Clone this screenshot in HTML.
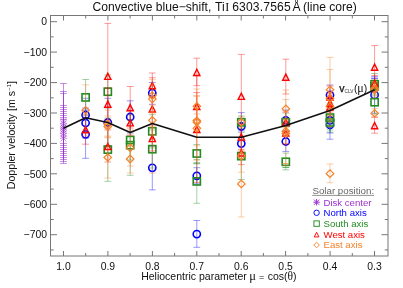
<!DOCTYPE html>
<html><head><meta charset="utf-8"><title>Convective blue-shift</title>
<style>html,body{margin:0;padding:0;background:#fff}body{width:403px;height:288px;overflow:hidden;font-family:"Liberation Sans",sans-serif}</style></head>
<body>
<svg width="403" height="288" viewBox="0 0 403 288" style="display:block;will-change:transform;font-family:'Liberation Sans',sans-serif">
<rect width="403" height="288" fill="#fff"/>
<path d="M63.5 83.5V143.5M60.1 83.5H66.9M60.1 143.5H66.9" fill="none" stroke="#9a32cd" stroke-opacity="0.55" stroke-width="1"/>
<path d="M63.5 91.5V145.5M60.1 91.5H66.9M60.1 145.5H66.9" fill="none" stroke="#9a32cd" stroke-opacity="0.55" stroke-width="1"/>
<path d="M63.5 93.5V147.5M60.1 93.5H66.9M60.1 147.5H66.9" fill="none" stroke="#9a32cd" stroke-opacity="0.55" stroke-width="1"/>
<path d="M63.5 105.5V149.5M60.1 105.5H66.9M60.1 149.5H66.9" fill="none" stroke="#9a32cd" stroke-opacity="0.55" stroke-width="1"/>
<path d="M63.5 107.5V151.5M60.1 107.5H66.9M60.1 151.5H66.9" fill="none" stroke="#9a32cd" stroke-opacity="0.55" stroke-width="1"/>
<path d="M63.5 109.5V153.5M60.1 109.5H66.9M60.1 153.5H66.9" fill="none" stroke="#9a32cd" stroke-opacity="0.55" stroke-width="1"/>
<path d="M63.5 111.5V155.5M60.1 111.5H66.9M60.1 155.5H66.9" fill="none" stroke="#9a32cd" stroke-opacity="0.55" stroke-width="1"/>
<path d="M63.5 113.5V157.5M60.1 113.5H66.9M60.1 157.5H66.9" fill="none" stroke="#9a32cd" stroke-opacity="0.55" stroke-width="1"/>
<path d="M63.5 115.5V159.5M60.1 115.5H66.9M60.1 159.5H66.9" fill="none" stroke="#9a32cd" stroke-opacity="0.55" stroke-width="1"/>
<path d="M63.5 117.5V161.5M60.1 117.5H66.9M60.1 161.5H66.9" fill="none" stroke="#9a32cd" stroke-opacity="0.55" stroke-width="1"/>
<path d="M63.5 119.5V163.5M60.1 119.5H66.9M60.1 163.5H66.9" fill="none" stroke="#9a32cd" stroke-opacity="0.55" stroke-width="1"/>
<path d="M60.6 118.1L66.4 123.9M60.6 123.9L66.4 118.1" fill="none" stroke="#9a32cd" stroke-width="0.8" stroke-opacity="0.7"/><path d="M59.9 121.0H67.1M63.5 117.4V124.6" fill="none" stroke="#9a32cd" stroke-width="0.8" stroke-opacity="0.35"/>
<path d="M60.6 120.6L66.4 126.4M60.6 126.4L66.4 120.6" fill="none" stroke="#9a32cd" stroke-width="0.8" stroke-opacity="0.7"/><path d="M59.9 123.5H67.1M63.5 119.9V127.1" fill="none" stroke="#9a32cd" stroke-width="0.8" stroke-opacity="0.35"/>
<path d="M60.6 123.1L66.4 128.9M60.6 128.9L66.4 123.1" fill="none" stroke="#9a32cd" stroke-width="0.8" stroke-opacity="0.7"/><path d="M59.9 126.0H67.1M63.5 122.4V129.6" fill="none" stroke="#9a32cd" stroke-width="0.8" stroke-opacity="0.35"/>
<path d="M60.6 124.6L66.4 130.4M60.6 130.4L66.4 124.6" fill="none" stroke="#9a32cd" stroke-width="0.8" stroke-opacity="0.7"/><path d="M59.9 127.5H67.1M63.5 123.9V131.1" fill="none" stroke="#9a32cd" stroke-width="0.8" stroke-opacity="0.35"/>
<path d="M60.6 126.6L66.4 132.4M60.6 132.4L66.4 126.6" fill="none" stroke="#9a32cd" stroke-width="0.8" stroke-opacity="0.7"/><path d="M59.9 129.5H67.1M63.5 125.9V133.1" fill="none" stroke="#9a32cd" stroke-width="0.8" stroke-opacity="0.35"/>
<path d="M60.6 128.1L66.4 133.9M60.6 133.9L66.4 128.1" fill="none" stroke="#9a32cd" stroke-width="0.8" stroke-opacity="0.7"/><path d="M59.9 131.0H67.1M63.5 127.4V134.6" fill="none" stroke="#9a32cd" stroke-width="0.8" stroke-opacity="0.35"/>
<path d="M60.6 130.6L66.4 136.4M60.6 136.4L66.4 130.6" fill="none" stroke="#9a32cd" stroke-width="0.8" stroke-opacity="0.7"/><path d="M59.9 133.5H67.1M63.5 129.9V137.1" fill="none" stroke="#9a32cd" stroke-width="0.8" stroke-opacity="0.35"/>
<path d="M60.6 133.1L66.4 138.9M60.6 138.9L66.4 133.1" fill="none" stroke="#9a32cd" stroke-width="0.8" stroke-opacity="0.7"/><path d="M59.9 136.0H67.1M63.5 132.4V139.6" fill="none" stroke="#9a32cd" stroke-width="0.8" stroke-opacity="0.35"/>
<path d="M60.6 135.6L66.4 141.4M60.6 141.4L66.4 135.6" fill="none" stroke="#9a32cd" stroke-width="0.8" stroke-opacity="0.7"/><path d="M59.9 138.5H67.1M63.5 134.9V142.1" fill="none" stroke="#9a32cd" stroke-width="0.8" stroke-opacity="0.35"/>
<path d="M85.6 98.3V132.0M82.2 98.3H89.0M82.2 132.0H89.0" fill="none" stroke="#0000ff" stroke-opacity="0.4" stroke-width="1"/>
<path d="M85.6 108.0V138.0M82.2 108.0H89.0M82.2 138.0H89.0" fill="none" stroke="#0000ff" stroke-opacity="0.4" stroke-width="1"/>
<path d="M85.6 110.0V158.3M82.2 110.0H89.0M82.2 158.3H89.0" fill="none" stroke="#0000ff" stroke-opacity="0.4" stroke-width="1"/>
<path d="M107.8 98.3V146.0M104.4 98.3H111.2M104.4 146.0H111.2" fill="none" stroke="#0000ff" stroke-opacity="0.4" stroke-width="1"/>
<path d="M130.2 100.8V133.0M126.8 100.8H133.6M126.8 133.0H133.6" fill="none" stroke="#0000ff" stroke-opacity="0.4" stroke-width="1"/>
<path d="M152.3 82.5V104.3M148.9 82.5H155.7M148.9 104.3H155.7" fill="none" stroke="#0000ff" stroke-opacity="0.4" stroke-width="1"/>
<path d="M152.3 146.0V189.9M148.9 146.0H155.7M148.9 189.9H155.7" fill="none" stroke="#0000ff" stroke-opacity="0.4" stroke-width="1"/>
<path d="M196.8 167.7V183.9M193.4 167.7H200.2M193.4 183.9H200.2" fill="none" stroke="#0000ff" stroke-opacity="0.4" stroke-width="1"/>
<path d="M196.8 220.5V247.3M193.4 220.5H200.2M193.4 247.3H200.2" fill="none" stroke="#0000ff" stroke-opacity="0.4" stroke-width="1"/>
<path d="M241.3 112.6V140.4M237.9 112.6H244.7M237.9 140.4H244.7" fill="none" stroke="#0000ff" stroke-opacity="0.4" stroke-width="1"/>
<path d="M241.3 131.0V156.2M237.9 131.0H244.7M237.9 156.2H244.7" fill="none" stroke="#0000ff" stroke-opacity="0.4" stroke-width="1"/>
<path d="M285.8 110.0V130.6M282.4 110.0H289.2M282.4 130.6H289.2" fill="none" stroke="#0000ff" stroke-opacity="0.4" stroke-width="1"/>
<path d="M285.8 131.6V151.4M282.4 131.6H289.2M282.4 151.4H289.2" fill="none" stroke="#0000ff" stroke-opacity="0.4" stroke-width="1"/>
<path d="M330.0 85.0V105.0M326.6 85.0H333.4M326.6 105.0H333.4" fill="none" stroke="#0000ff" stroke-opacity="0.4" stroke-width="1"/>
<path d="M330.0 108.0V133.0M326.6 108.0H333.4M326.6 133.0H333.4" fill="none" stroke="#0000ff" stroke-opacity="0.4" stroke-width="1"/>
<path d="M330.0 110.0V139.2M326.6 110.0H333.4M326.6 139.2H333.4" fill="none" stroke="#0000ff" stroke-opacity="0.4" stroke-width="1"/>
<path d="M374.6 76.6V113.2M371.2 76.6H378.0M371.2 113.2H378.0" fill="none" stroke="#0000ff" stroke-opacity="0.4" stroke-width="1"/>
<path d="M374.6 78.3V78.3M371.2 78.3H378.0M371.2 78.3H378.0" fill="none" stroke="#0000ff" stroke-opacity="0.4" stroke-width="1"/>
<circle cx="85.6" cy="115.0" r="3.60" fill="none" stroke="#0000ff" stroke-width="1.60"/>
<circle cx="85.6" cy="123.0" r="3.60" fill="none" stroke="#0000ff" stroke-width="1.60"/>
<circle cx="85.6" cy="134.3" r="3.60" fill="none" stroke="#0000ff" stroke-width="1.60"/>
<circle cx="107.8" cy="122.5" r="3.60" fill="none" stroke="#0000ff" stroke-width="1.60"/>
<circle cx="130.2" cy="117.0" r="3.60" fill="none" stroke="#0000ff" stroke-width="1.60"/>
<circle cx="152.3" cy="93.0" r="3.60" fill="none" stroke="#0000ff" stroke-width="1.60"/>
<circle cx="152.3" cy="167.8" r="3.60" fill="none" stroke="#0000ff" stroke-width="1.60"/>
<circle cx="196.8" cy="175.8" r="3.60" fill="none" stroke="#0000ff" stroke-width="1.60"/>
<circle cx="196.8" cy="234.1" r="3.60" fill="none" stroke="#0000ff" stroke-width="1.60"/>
<circle cx="241.3" cy="126.5" r="3.60" fill="none" stroke="#0000ff" stroke-width="1.60"/>
<circle cx="241.3" cy="143.6" r="3.60" fill="none" stroke="#0000ff" stroke-width="1.60"/>
<circle cx="285.8" cy="120.3" r="3.60" fill="none" stroke="#0000ff" stroke-width="1.60"/>
<circle cx="285.8" cy="141.5" r="3.60" fill="none" stroke="#0000ff" stroke-width="1.60"/>
<circle cx="330.0" cy="95.0" r="3.60" fill="none" stroke="#0000ff" stroke-width="1.60"/>
<circle cx="330.0" cy="120.4" r="3.60" fill="none" stroke="#0000ff" stroke-width="1.60"/>
<circle cx="330.0" cy="124.8" r="3.60" fill="none" stroke="#0000ff" stroke-width="1.60"/>
<circle cx="374.6" cy="94.9" r="3.60" fill="none" stroke="#0000ff" stroke-width="1.60"/>
<path d="M85.6 79.5V115.0M82.2 79.5H89.0M82.2 115.0H89.0" fill="none" stroke="#228b22" stroke-opacity="0.4" stroke-width="1"/>
<path d="M107.8 75.0V108.0M104.4 75.0H111.2M104.4 108.0H111.2" fill="none" stroke="#228b22" stroke-opacity="0.4" stroke-width="1"/>
<path d="M107.8 118.0V181.3M104.4 118.0H111.2M104.4 181.3H111.2" fill="none" stroke="#228b22" stroke-opacity="0.4" stroke-width="1"/>
<path d="M130.2 120.0V160.0M126.8 120.0H133.6M126.8 160.0H133.6" fill="none" stroke="#228b22" stroke-opacity="0.4" stroke-width="1"/>
<path d="M130.2 115.0V175.3M126.8 115.0H133.6M126.8 175.3H133.6" fill="none" stroke="#228b22" stroke-opacity="0.4" stroke-width="1"/>
<path d="M152.3 114.7V148.0M148.9 114.7H155.7M148.9 148.0H155.7" fill="none" stroke="#228b22" stroke-opacity="0.4" stroke-width="1"/>
<path d="M152.3 130.0V168.0M148.9 130.0H155.7M148.9 168.0H155.7" fill="none" stroke="#228b22" stroke-opacity="0.4" stroke-width="1"/>
<path d="M196.8 144.5V162.5M193.4 144.5H200.2M193.4 162.5H200.2" fill="none" stroke="#228b22" stroke-opacity="0.4" stroke-width="1"/>
<path d="M196.8 159.5V203.3M193.4 159.5H200.2M193.4 203.3H200.2" fill="none" stroke="#228b22" stroke-opacity="0.4" stroke-width="1"/>
<path d="M196.8 163.7V163.7M193.4 163.7H200.2M193.4 163.7H200.2" fill="none" stroke="#228b22" stroke-opacity="0.4" stroke-width="1"/>
<path d="M241.3 116.0V128.6M237.9 116.0H244.7M237.9 128.6H244.7" fill="none" stroke="#228b22" stroke-opacity="0.4" stroke-width="1"/>
<path d="M241.3 132.7V179.5M237.9 132.7H244.7M237.9 179.5H244.7" fill="none" stroke="#228b22" stroke-opacity="0.4" stroke-width="1"/>
<path d="M285.8 113.0V131.6M282.4 113.0H289.2M282.4 131.6H289.2" fill="none" stroke="#228b22" stroke-opacity="0.4" stroke-width="1"/>
<path d="M285.8 153.1V169.8M282.4 153.1H289.2M282.4 169.8H289.2" fill="none" stroke="#228b22" stroke-opacity="0.4" stroke-width="1"/>
<path d="M285.8 167.5V167.5M282.4 167.5H289.2M282.4 167.5H289.2" fill="none" stroke="#228b22" stroke-opacity="0.4" stroke-width="1"/>
<path d="M330.0 103.0V132.2M326.6 103.0H333.4M326.6 132.2H333.4" fill="none" stroke="#228b22" stroke-opacity="0.4" stroke-width="1"/>
<path d="M330.0 115.0V130.0M326.6 115.0H333.4M326.6 130.0H333.4" fill="none" stroke="#228b22" stroke-opacity="0.4" stroke-width="1"/>
<path d="M374.6 73.5V95.1M371.2 73.5H378.0M371.2 95.1H378.0" fill="none" stroke="#228b22" stroke-opacity="0.4" stroke-width="1"/>
<path d="M374.6 80.0V92.8M371.2 80.0H378.0M371.2 92.8H378.0" fill="none" stroke="#228b22" stroke-opacity="0.4" stroke-width="1"/>
<path d="M374.6 90.4V114.0M371.2 90.4H378.0M371.2 114.0H378.0" fill="none" stroke="#228b22" stroke-opacity="0.4" stroke-width="1"/>
<rect x="82.0" y="93.8" width="7.2" height="7.2" fill="none" stroke="#228b22" stroke-width="1.60"/>
<rect x="104.2" y="88.1" width="7.2" height="7.2" fill="none" stroke="#228b22" stroke-width="1.60"/>
<rect x="104.2" y="146.0" width="7.2" height="7.2" fill="none" stroke="#228b22" stroke-width="1.60"/>
<rect x="126.6" y="136.4" width="7.2" height="7.2" fill="none" stroke="#228b22" stroke-width="1.60"/>
<rect x="126.6" y="141.6" width="7.2" height="7.2" fill="none" stroke="#228b22" stroke-width="1.60"/>
<rect x="148.7" y="127.7" width="7.2" height="7.2" fill="none" stroke="#228b22" stroke-width="1.60"/>
<rect x="148.7" y="145.6" width="7.2" height="7.2" fill="none" stroke="#228b22" stroke-width="1.60"/>
<rect x="193.2" y="149.9" width="7.2" height="7.2" fill="none" stroke="#228b22" stroke-width="1.60"/>
<rect x="193.2" y="177.8" width="7.2" height="7.2" fill="none" stroke="#228b22" stroke-width="1.60"/>
<rect x="237.7" y="118.7" width="7.2" height="7.2" fill="none" stroke="#228b22" stroke-width="1.60"/>
<rect x="237.7" y="152.5" width="7.2" height="7.2" fill="none" stroke="#228b22" stroke-width="1.60"/>
<rect x="282.2" y="118.7" width="7.2" height="7.2" fill="none" stroke="#228b22" stroke-width="1.60"/>
<rect x="282.2" y="158.2" width="7.2" height="7.2" fill="none" stroke="#228b22" stroke-width="1.60"/>
<rect x="326.4" y="114.0" width="7.2" height="7.2" fill="none" stroke="#228b22" stroke-width="1.60"/>
<rect x="326.4" y="118.9" width="7.2" height="7.2" fill="none" stroke="#228b22" stroke-width="1.60"/>
<rect x="371.0" y="80.7" width="7.2" height="7.2" fill="none" stroke="#228b22" stroke-width="1.60"/>
<rect x="371.0" y="82.8" width="7.2" height="7.2" fill="none" stroke="#228b22" stroke-width="1.60"/>
<rect x="371.0" y="98.6" width="7.2" height="7.2" fill="none" stroke="#228b22" stroke-width="1.60"/>
<path d="M85.6 115.0V144.2M82.2 115.0H89.0M82.2 144.2H89.0" fill="none" stroke="#ff0000" stroke-opacity="0.4" stroke-width="1"/>
<path d="M107.8 23.4V128.0M104.4 23.4H111.2M104.4 128.0H111.2" fill="none" stroke="#ff0000" stroke-opacity="0.4" stroke-width="1"/>
<path d="M107.8 88.0V120.0M104.4 88.0H111.2M104.4 120.0H111.2" fill="none" stroke="#ff0000" stroke-opacity="0.4" stroke-width="1"/>
<path d="M107.8 130.0V162.0M104.4 130.0H111.2M104.4 162.0H111.2" fill="none" stroke="#ff0000" stroke-opacity="0.4" stroke-width="1"/>
<path d="M130.2 86.5V128.0M126.8 86.5H133.6M126.8 128.0H133.6" fill="none" stroke="#ff0000" stroke-opacity="0.4" stroke-width="1"/>
<path d="M130.2 110.0V135.0M126.8 110.0H133.6M126.8 135.0H133.6" fill="none" stroke="#ff0000" stroke-opacity="0.4" stroke-width="1"/>
<path d="M152.3 73.0V97.5M148.9 73.0H155.7M148.9 97.5H155.7" fill="none" stroke="#ff0000" stroke-opacity="0.4" stroke-width="1"/>
<path d="M152.3 77.7V139.0M148.9 77.7H155.7M148.9 139.0H155.7" fill="none" stroke="#ff0000" stroke-opacity="0.4" stroke-width="1"/>
<path d="M152.3 125.0V151.0M148.9 125.0H155.7M148.9 151.0H155.7" fill="none" stroke="#ff0000" stroke-opacity="0.4" stroke-width="1"/>
<path d="M196.8 58.2V85.6M193.4 58.2H200.2M193.4 85.6H200.2" fill="none" stroke="#ff0000" stroke-opacity="0.4" stroke-width="1"/>
<path d="M196.8 92.5V119.7M193.4 92.5H200.2M193.4 119.7H200.2" fill="none" stroke="#ff0000" stroke-opacity="0.4" stroke-width="1"/>
<path d="M196.8 75.8V182.4M193.4 75.8H200.2M193.4 182.4H200.2" fill="none" stroke="#ff0000" stroke-opacity="0.4" stroke-width="1"/>
<path d="M241.3 54.4V137.6M237.9 54.4H244.7M237.9 137.6H244.7" fill="none" stroke="#ff0000" stroke-opacity="0.4" stroke-width="1"/>
<path d="M241.3 124.0V149.4M237.9 124.0H244.7M237.9 149.4H244.7" fill="none" stroke="#ff0000" stroke-opacity="0.4" stroke-width="1"/>
<path d="M241.3 140.6V164.6M237.9 140.6H244.7M237.9 164.6H244.7" fill="none" stroke="#ff0000" stroke-opacity="0.4" stroke-width="1"/>
<path d="M285.8 59.2V94.0M282.4 59.2H289.2M282.4 94.0H289.2" fill="none" stroke="#ff0000" stroke-opacity="0.4" stroke-width="1"/>
<path d="M285.8 112.0V132.0M282.4 112.0H289.2M282.4 132.0H289.2" fill="none" stroke="#ff0000" stroke-opacity="0.4" stroke-width="1"/>
<path d="M285.8 121.0V144.2M282.4 121.0H289.2M282.4 144.2H289.2" fill="none" stroke="#ff0000" stroke-opacity="0.4" stroke-width="1"/>
<path d="M330.0 86.0V107.0M326.6 86.0H333.4M326.6 107.0H333.4" fill="none" stroke="#ff0000" stroke-opacity="0.4" stroke-width="1"/>
<path d="M330.0 93.0V112.0M326.6 93.0H333.4M326.6 112.0H333.4" fill="none" stroke="#ff0000" stroke-opacity="0.4" stroke-width="1"/>
<path d="M330.0 97.0V116.0M326.6 97.0H333.4M326.6 116.0H333.4" fill="none" stroke="#ff0000" stroke-opacity="0.4" stroke-width="1"/>
<path d="M374.6 45.6V88.2M371.2 45.6H378.0M371.2 88.2H378.0" fill="none" stroke="#ff0000" stroke-opacity="0.4" stroke-width="1"/>
<path d="M374.6 75.4V90.6M371.2 75.4H378.0M371.2 90.6H378.0" fill="none" stroke="#ff0000" stroke-opacity="0.4" stroke-width="1"/>
<path d="M374.6 117.4V133.2M371.2 117.4H378.0M371.2 133.2H378.0" fill="none" stroke="#ff0000" stroke-opacity="0.4" stroke-width="1"/>
<path d="M82.50 132.80L85.60 126.60L88.70 132.80Z" fill="none" stroke="#ff0000" stroke-width="1.40" stroke-linejoin="miter"/>
<path d="M104.70 79.40L107.80 73.20L110.90 79.40Z" fill="none" stroke="#ff0000" stroke-width="1.40" stroke-linejoin="miter"/>
<path d="M104.70 107.30L107.80 101.10L110.90 107.30Z" fill="none" stroke="#ff0000" stroke-width="1.40" stroke-linejoin="miter"/>
<path d="M104.70 149.50L107.80 143.30L110.90 149.50Z" fill="none" stroke="#ff0000" stroke-width="1.40" stroke-linejoin="miter"/>
<path d="M127.10 110.80L130.20 104.60L133.30 110.80Z" fill="none" stroke="#ff0000" stroke-width="1.40" stroke-linejoin="miter"/>
<path d="M127.10 125.90L130.20 119.70L133.30 125.90Z" fill="none" stroke="#ff0000" stroke-width="1.40" stroke-linejoin="miter"/>
<path d="M149.20 88.70L152.30 82.50L155.40 88.70Z" fill="none" stroke="#ff0000" stroke-width="1.40" stroke-linejoin="miter"/>
<path d="M149.20 112.00L152.30 105.80L155.40 112.00Z" fill="none" stroke="#ff0000" stroke-width="1.40" stroke-linejoin="miter"/>
<path d="M149.20 141.60L152.30 135.40L155.40 141.60Z" fill="none" stroke="#ff0000" stroke-width="1.40" stroke-linejoin="miter"/>
<path d="M193.70 75.50L196.80 69.30L199.90 75.50Z" fill="none" stroke="#ff0000" stroke-width="1.40" stroke-linejoin="miter"/>
<path d="M193.70 109.50L196.80 103.30L199.90 109.50Z" fill="none" stroke="#ff0000" stroke-width="1.40" stroke-linejoin="miter"/>
<path d="M193.70 132.50L196.80 126.30L199.90 132.50Z" fill="none" stroke="#ff0000" stroke-width="1.40" stroke-linejoin="miter"/>
<path d="M238.20 99.40L241.30 93.20L244.40 99.40Z" fill="none" stroke="#ff0000" stroke-width="1.40" stroke-linejoin="miter"/>
<path d="M238.20 140.10L241.30 133.90L244.40 140.10Z" fill="none" stroke="#ff0000" stroke-width="1.40" stroke-linejoin="miter"/>
<path d="M238.20 156.00L241.30 149.80L244.40 156.00Z" fill="none" stroke="#ff0000" stroke-width="1.40" stroke-linejoin="miter"/>
<path d="M282.70 80.30L285.80 74.10L288.90 80.30Z" fill="none" stroke="#ff0000" stroke-width="1.40" stroke-linejoin="miter"/>
<path d="M282.70 125.50L285.80 119.30L288.90 125.50Z" fill="none" stroke="#ff0000" stroke-width="1.40" stroke-linejoin="miter"/>
<path d="M282.70 136.00L285.80 129.80L288.90 136.00Z" fill="none" stroke="#ff0000" stroke-width="1.40" stroke-linejoin="miter"/>
<path d="M326.90 100.10L330.00 93.90L333.10 100.10Z" fill="none" stroke="#ff0000" stroke-width="1.40" stroke-linejoin="miter"/>
<path d="M326.90 106.20L330.00 100.00L333.10 106.20Z" fill="none" stroke="#ff0000" stroke-width="1.40" stroke-linejoin="miter"/>
<path d="M326.90 110.00L330.00 103.80L333.10 110.00Z" fill="none" stroke="#ff0000" stroke-width="1.40" stroke-linejoin="miter"/>
<path d="M371.50 70.30L374.60 64.10L377.70 70.30Z" fill="none" stroke="#ff0000" stroke-width="1.40" stroke-linejoin="miter"/>
<path d="M371.50 86.40L374.60 80.20L377.70 86.40Z" fill="none" stroke="#ff0000" stroke-width="1.40" stroke-linejoin="miter"/>
<path d="M371.50 128.70L374.60 122.50L377.70 128.70Z" fill="none" stroke="#ff0000" stroke-width="1.40" stroke-linejoin="miter"/>
<path d="M85.6 84.8V136.0M82.2 84.8H89.0M82.2 136.0H89.0" fill="none" stroke="#f5822a" stroke-opacity="0.4" stroke-width="1"/>
<path d="M107.8 116.0V137.0M104.4 116.0H111.2M104.4 137.0H111.2" fill="none" stroke="#f5822a" stroke-opacity="0.4" stroke-width="1"/>
<path d="M107.8 110.0V137.8M104.4 110.0H111.2M104.4 137.8H111.2" fill="none" stroke="#f5822a" stroke-opacity="0.4" stroke-width="1"/>
<path d="M107.8 136.0V178.1M104.4 136.0H111.2M104.4 178.1H111.2" fill="none" stroke="#f5822a" stroke-opacity="0.4" stroke-width="1"/>
<path d="M130.2 130.0V166.0M126.8 130.0H133.6M126.8 166.0H133.6" fill="none" stroke="#f5822a" stroke-opacity="0.4" stroke-width="1"/>
<path d="M130.2 145.0V173.0M126.8 145.0H133.6M126.8 173.0H133.6" fill="none" stroke="#f5822a" stroke-opacity="0.4" stroke-width="1"/>
<path d="M152.3 79.6V112.0M148.9 79.6H155.7M148.9 112.0H155.7" fill="none" stroke="#f5822a" stroke-opacity="0.4" stroke-width="1"/>
<path d="M152.3 85.0V113.0M148.9 85.0H155.7M148.9 113.0H155.7" fill="none" stroke="#f5822a" stroke-opacity="0.4" stroke-width="1"/>
<path d="M152.3 105.0V135.0M148.9 105.0H155.7M148.9 135.0H155.7" fill="none" stroke="#f5822a" stroke-opacity="0.4" stroke-width="1"/>
<path d="M152.3 127.0V173.0M148.9 127.0H155.7M148.9 173.0H155.7" fill="none" stroke="#f5822a" stroke-opacity="0.4" stroke-width="1"/>
<path d="M196.8 89.0V123.6M193.4 89.0H200.2M193.4 123.6H200.2" fill="none" stroke="#f5822a" stroke-opacity="0.4" stroke-width="1"/>
<path d="M196.8 95.6V145.8M193.4 95.6H200.2M193.4 145.8H200.2" fill="none" stroke="#f5822a" stroke-opacity="0.4" stroke-width="1"/>
<path d="M196.8 113.9V130.3M193.4 113.9H200.2M193.4 130.3H200.2" fill="none" stroke="#f5822a" stroke-opacity="0.4" stroke-width="1"/>
<path d="M196.8 96.4V160.2M193.4 96.4H200.2M193.4 160.2H200.2" fill="none" stroke="#f5822a" stroke-opacity="0.4" stroke-width="1"/>
<path d="M241.3 117.0V127.4M237.9 117.0H244.7M237.9 127.4H244.7" fill="none" stroke="#f5822a" stroke-opacity="0.4" stroke-width="1"/>
<path d="M241.3 139.8V172.2M237.9 139.8H244.7M237.9 172.2H244.7" fill="none" stroke="#f5822a" stroke-opacity="0.4" stroke-width="1"/>
<path d="M241.3 150.8V217.0M237.9 150.8H244.7M237.9 217.0H244.7" fill="none" stroke="#f5822a" stroke-opacity="0.4" stroke-width="1"/>
<path d="M285.8 90.0V127.6M282.4 90.0H289.2M282.4 127.6H289.2" fill="none" stroke="#f5822a" stroke-opacity="0.4" stroke-width="1"/>
<path d="M285.8 119.0V143.4M282.4 119.0H289.2M282.4 143.4H289.2" fill="none" stroke="#f5822a" stroke-opacity="0.4" stroke-width="1"/>
<path d="M285.8 99.5V165.3M282.4 99.5H289.2M282.4 165.3H289.2" fill="none" stroke="#f5822a" stroke-opacity="0.4" stroke-width="1"/>
<path d="M285.8 163.5V163.5M282.4 163.5H289.2M282.4 163.5H289.2" fill="none" stroke="#f5822a" stroke-opacity="0.4" stroke-width="1"/>
<path d="M330.0 57.4V122.0M326.6 57.4H333.4M326.6 122.0H333.4" fill="none" stroke="#f5822a" stroke-opacity="0.4" stroke-width="1"/>
<path d="M330.0 69.5V127.0M326.6 69.5H333.4M326.6 127.0H333.4" fill="none" stroke="#f5822a" stroke-opacity="0.4" stroke-width="1"/>
<path d="M330.0 94.0V119.0M326.6 94.0H333.4M326.6 119.0H333.4" fill="none" stroke="#f5822a" stroke-opacity="0.4" stroke-width="1"/>
<path d="M330.0 164.0V182.7M326.6 164.0H333.4M326.6 182.7H333.4" fill="none" stroke="#f5822a" stroke-opacity="0.4" stroke-width="1"/>
<path d="M374.6 82.0V95.0M371.2 82.0H378.0M371.2 95.0H378.0" fill="none" stroke="#f5822a" stroke-opacity="0.4" stroke-width="1"/>
<path d="M374.6 83.0V97.0M371.2 83.0H378.0M371.2 97.0H378.0" fill="none" stroke="#f5822a" stroke-opacity="0.4" stroke-width="1"/>
<path d="M374.6 108.6V116.6M371.2 108.6H378.0M371.2 116.6H378.0" fill="none" stroke="#f5822a" stroke-opacity="0.4" stroke-width="1"/>
<path d="M81.8 110.3L85.6 106.5L89.3 110.3L85.6 114.0Z" fill="none" stroke="#f5822a" stroke-width="1.20"/>
<path d="M104.0 126.5L107.8 122.8L111.5 126.5L107.8 130.2Z" fill="none" stroke="#f5822a" stroke-width="1.20"/>
<path d="M104.0 124.0L107.8 120.2L111.5 124.0L107.8 127.8Z" fill="none" stroke="#f5822a" stroke-width="1.20"/>
<path d="M104.0 157.5L107.8 153.8L111.5 157.5L107.8 161.2Z" fill="none" stroke="#f5822a" stroke-width="1.20"/>
<path d="M126.4 147.8L130.2 144.1L133.9 147.8L130.2 151.6Z" fill="none" stroke="#f5822a" stroke-width="1.20"/>
<path d="M126.4 159.0L130.2 155.2L133.9 159.0L130.2 162.8Z" fill="none" stroke="#f5822a" stroke-width="1.20"/>
<path d="M148.6 95.6L152.3 91.8L156.1 95.6L152.3 99.3Z" fill="none" stroke="#f5822a" stroke-width="1.20"/>
<path d="M148.6 99.1L152.3 95.3L156.1 99.1L152.3 102.8Z" fill="none" stroke="#f5822a" stroke-width="1.20"/>
<path d="M148.6 120.3L152.3 116.5L156.1 120.3L152.3 124.0Z" fill="none" stroke="#f5822a" stroke-width="1.20"/>
<path d="M193.1 106.3L196.8 102.5L200.6 106.3L196.8 110.0Z" fill="none" stroke="#f5822a" stroke-width="1.20"/>
<path d="M193.1 120.7L196.8 117.0L200.6 120.7L196.8 124.5Z" fill="none" stroke="#f5822a" stroke-width="1.20"/>
<path d="M193.1 122.1L196.8 118.3L200.6 122.1L196.8 125.8Z" fill="none" stroke="#f5822a" stroke-width="1.20"/>
<path d="M193.1 128.3L196.8 124.6L200.6 128.3L196.8 132.1Z" fill="none" stroke="#f5822a" stroke-width="1.20"/>
<path d="M237.6 122.2L241.3 118.5L245.1 122.2L241.3 126.0Z" fill="none" stroke="#f5822a" stroke-width="1.20"/>
<path d="M237.6 156.0L241.3 152.2L245.1 156.0L241.3 159.8Z" fill="none" stroke="#f5822a" stroke-width="1.20"/>
<path d="M237.6 183.9L241.3 180.2L245.1 183.9L241.3 187.7Z" fill="none" stroke="#f5822a" stroke-width="1.20"/>
<path d="M282.1 108.8L285.8 105.0L289.6 108.8L285.8 112.5Z" fill="none" stroke="#f5822a" stroke-width="1.20"/>
<path d="M282.1 131.2L285.8 127.4L289.6 131.2L285.8 134.9Z" fill="none" stroke="#f5822a" stroke-width="1.20"/>
<path d="M282.1 133.4L285.8 129.7L289.6 133.4L285.8 137.2Z" fill="none" stroke="#f5822a" stroke-width="1.20"/>
<path d="M326.2 89.8L330.0 86.0L333.8 89.8L330.0 93.5Z" fill="none" stroke="#f5822a" stroke-width="1.20"/>
<path d="M326.2 98.4L330.0 94.7L333.8 98.4L330.0 102.2Z" fill="none" stroke="#f5822a" stroke-width="1.20"/>
<path d="M326.2 106.6L330.0 102.8L333.8 106.6L330.0 110.3Z" fill="none" stroke="#f5822a" stroke-width="1.20"/>
<path d="M326.2 173.7L330.0 169.9L333.8 173.7L330.0 177.4Z" fill="none" stroke="#f5822a" stroke-width="1.20"/>
<path d="M370.9 88.4L374.6 84.7L378.4 88.4L374.6 92.2Z" fill="none" stroke="#f5822a" stroke-width="1.20"/>
<path d="M370.9 90.0L374.6 86.2L378.4 90.0L374.6 93.8Z" fill="none" stroke="#f5822a" stroke-width="1.20"/>
<path d="M370.9 113.3L374.6 109.5L378.4 113.3L374.6 117.0Z" fill="none" stroke="#f5822a" stroke-width="1.20"/>
<polyline fill="none" stroke="#111" stroke-width="1.6" stroke-linejoin="round" points="63.5,128.2 85.6,117.8 107.8,122.5 130.2,132.5 152.3,123.5 196.8,137.2 241.3,137.2 285.8,125.6 330,110.6 374.6,89.8"/>
<rect x="50.5" y="15.5" width="337.5" height="240.5" fill="none" stroke="#777" stroke-width="1"/>
<path d="M63.5 256.0v-5M63.5 15.5v5M85.7 256.0v-3M85.7 15.5v3M107.9 256.0v-5M107.9 15.5v5M130.1 256.0v-3M130.1 15.5v3M152.4 256.0v-5M152.4 15.5v5M174.6 256.0v-3M174.6 15.5v3M196.8 256.0v-5M196.8 15.5v5M219.0 256.0v-3M219.0 15.5v3M241.2 256.0v-5M241.2 15.5v5M263.4 256.0v-3M263.4 15.5v3M285.6 256.0v-5M285.6 15.5v5M307.9 256.0v-3M307.9 15.5v3M330.1 256.0v-5M330.1 15.5v5M352.3 256.0v-3M352.3 15.5v3M374.5 256.0v-5M374.5 15.5v5M50.5 21.7h6.5M388.0 21.7h-6.5M50.5 36.9h3.2M388.0 36.9h-3.2M50.5 52.1h6.5M388.0 52.1h-6.5M50.5 67.3h3.2M388.0 67.3h-3.2M50.5 82.6h6.5M388.0 82.6h-6.5M50.5 97.8h3.2M388.0 97.8h-3.2M50.5 113.0h6.5M388.0 113.0h-6.5M50.5 128.2h3.2M388.0 128.2h-3.2M50.5 143.4h6.5M388.0 143.4h-6.5M50.5 158.6h3.2M388.0 158.6h-3.2M50.5 173.8h6.5M388.0 173.8h-6.5M50.5 189.1h3.2M388.0 189.1h-3.2M50.5 204.3h6.5M388.0 204.3h-6.5M50.5 219.5h3.2M388.0 219.5h-3.2M50.5 234.7h6.5M388.0 234.7h-6.5M50.5 249.9h3.2M388.0 249.9h-3.2" stroke="#777" stroke-width="1" fill="none"/>
<text x="63.5" y="269.8" font-size="10.4" text-anchor="middle" fill="#111">1.0</text>
<text x="107.9" y="269.8" font-size="10.4" text-anchor="middle" fill="#111">0.9</text>
<text x="152.4" y="269.8" font-size="10.4" text-anchor="middle" fill="#111">0.8</text>
<text x="196.8" y="269.8" font-size="10.4" text-anchor="middle" fill="#111">0.7</text>
<text x="241.2" y="269.8" font-size="10.4" text-anchor="middle" fill="#111">0.6</text>
<text x="285.6" y="269.8" font-size="10.4" text-anchor="middle" fill="#111">0.5</text>
<text x="330.1" y="269.8" font-size="10.4" text-anchor="middle" fill="#111">0.4</text>
<text x="374.5" y="269.8" font-size="10.4" text-anchor="middle" fill="#111">0.3</text>
<text x="47" y="25.4" font-size="10.4" text-anchor="end" fill="#111">0</text>
<text x="47" y="55.8" font-size="10.4" text-anchor="end" fill="#111">−100</text>
<text x="47" y="86.3" font-size="10.4" text-anchor="end" fill="#111">−200</text>
<text x="47" y="116.7" font-size="10.4" text-anchor="end" fill="#111">−300</text>
<text x="47" y="147.1" font-size="10.4" text-anchor="end" fill="#111">−400</text>
<text x="47" y="177.5" font-size="10.4" text-anchor="end" fill="#111">−500</text>
<text x="47" y="208.0" font-size="10.4" text-anchor="end" fill="#111">−600</text>
<text x="47" y="238.4" font-size="10.4" text-anchor="end" fill="#111">−700</text>
<text x="92.6" y="11.3" font-size="12.1" fill="#111">Convective blue−shift,</text>
<text x="215.0" y="11.3" font-size="12.1" fill="#111">Ti</text>
<text x="225.2" y="11.3" font-size="12.1" fill="#111" font-family="'Liberation Serif',serif" font-size="9.8">I</text>
<text x="232.2" y="11.3" font-size="12.1" fill="#111" letter-spacing="0.16">6303.7565</text>
<text x="292.6" y="11.3" font-size="12.1" fill="#111">Å</text>
<text x="303.0" y="11.3" font-size="12.1" fill="#111">(line core)</text>
<text x="141.2" y="280.4" font-size="10.5" fill="#111">Heliocentric parameter</text>
<text x="249.3" y="280.4" font-size="12.5" fill="#111" font-family="'Liberation Serif',serif">μ</text>
<text x="258.9" y="280.2" font-size="9" fill="#111">=</text>
<text x="267.7" y="280.4" font-size="10.5" fill="#111">cos(<tspan font-family="'Liberation Serif',serif" font-size="11.5">θ</tspan>)</text>
<text transform="translate(15.2,189.2) rotate(-90)" font-size="10.6" fill="#111">Doppler velocity [m s<tspan dy="-4" font-size="6">−1</tspan><tspan dy="4">]</tspan></text>
<text x="339.2" y="91.7" font-size="10.6" fill="#111" stroke="#111" stroke-width="0.25">v</text>
<text x="344.6" y="93.2" font-size="4.7" fill="#333">CLV</text>
<text x="353.9" y="91.7" font-size="10.4" fill="#111">(<tspan font-family="'Liberation Serif',serif" font-size="12">μ</tspan>)</text>
<text x="312.4" y="193.5" font-size="9.75" fill="#666">Solar position:</text>
<path d="M312.2 195.4H374" stroke="#777" stroke-width="0.8"/>
<path d="M313.4 202.2H319.8M316.6 199.0V205.4M314.0 199.6L319.2 204.8M314.0 204.8L319.2 199.6" fill="none" stroke="#9a32cd" stroke-width="0.99"/>
<text x="323.5" y="205.5" font-size="9.6" fill="#9a32cd">Disk center</text>
<circle cx="316.6" cy="212.8" r="2.70" fill="none" stroke="#0000ff" stroke-width="0.94"/>
<text x="323.5" y="216.1" font-size="9.6" fill="#0000ff">North axis</text>
<rect x="313.9" y="220.9" width="5.4" height="5.4" fill="none" stroke="#228b22" stroke-width="0.94"/>
<text x="323.5" y="226.9" font-size="9.6" fill="#228b22">South axis</text>
<path d="M314.28 236.92L316.60 232.28L318.93 236.92Z" fill="none" stroke="#ff0000" stroke-width="0.94" stroke-linejoin="miter"/>
<text x="323.5" y="237.6" font-size="9.6" fill="#ff0000">West axis</text>
<path d="M313.8 245.0L316.6 242.2L319.4 245.0L316.6 247.8Z" fill="none" stroke="#f5822a" stroke-width="0.90"/>
<text x="323.5" y="248.3" font-size="9.6" fill="#f5822a">East axis</text>
</svg>
</body></html>
